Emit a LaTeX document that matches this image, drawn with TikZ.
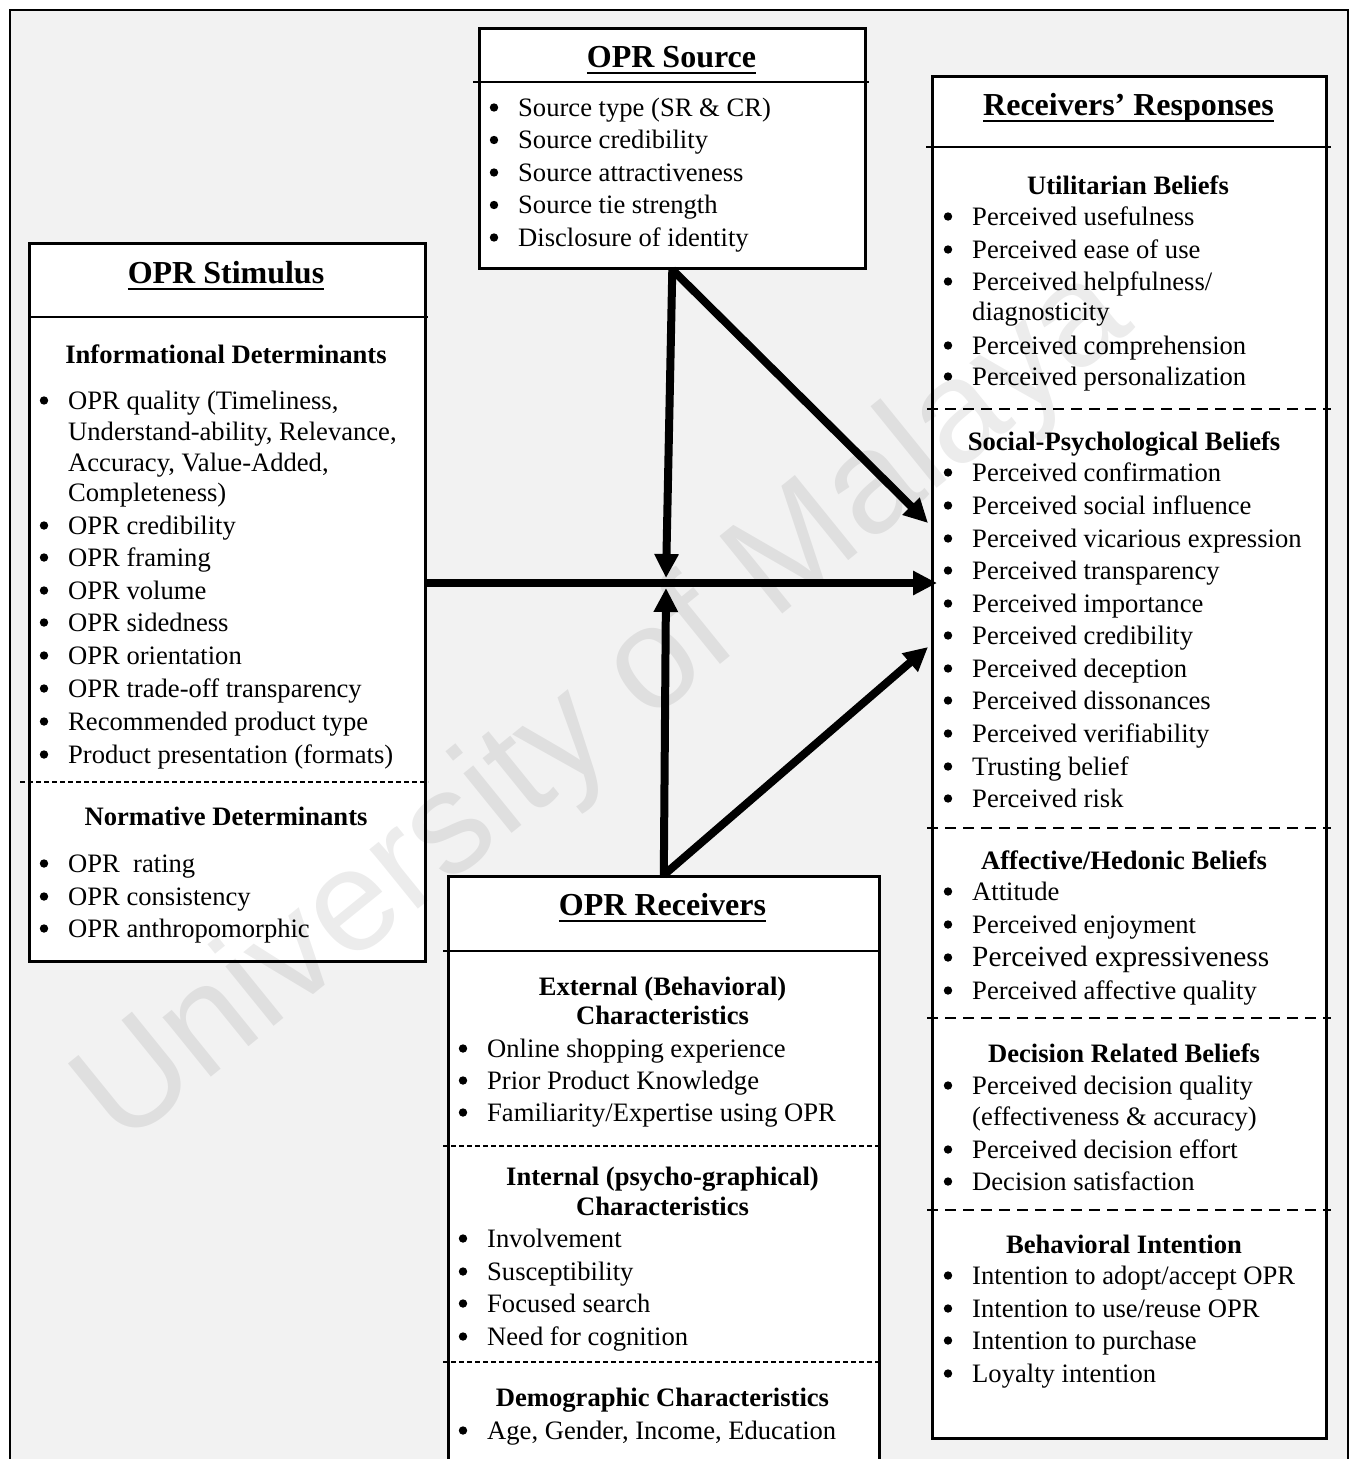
\documentclass[tikz,border=0pt]{standalone}
\usepackage{fontspec}
\setmainfont{Liberation Serif}
\newfontfamily\wmfont{Liberation Sans}
\usetikzlibrary{arrows.meta}
\definecolor{pagegray}{HTML}{F2F2F2}

% bold title with a heavy underline
\newcommand\ulx[1]{\setbox0=\hbox{#1}\rlap{\rule[-7.3pt]{\wd0}{2.6pt}}\box0}

\tikzset{
  box/.style={draw, line width=2.6pt, fill=white, inner sep=0pt, anchor=north west},
  title/.style={anchor=base, font=\fontsize{32}{36}\selectfont\bfseries, inner sep=0pt},
  subhead/.style={anchor=base, font=\fontsize{26.6}{30}\selectfont\bfseries, inner sep=0pt},
  entry/.style={anchor=base west, font=\fontsize{26.6}{30}\selectfont, inner sep=0pt},
  divider/.style={line width=1.4pt},
  thindash/.style={line width=1.2pt, dash pattern=on 5pt off 3pt},
  thickdash/.style={line width=2.6pt, dash pattern=on 11pt off 7pt},
  flow/.style={line width=8pt, -{Triangle[length=24pt,width=23pt]}},
}

% bulleted line: name, text x, baseline y, text
\newcommand\bitem[4]{%
  \node[entry] (#1) at (#2,#3) {#4};
  \fill (#2-24,#3-8.5) circle (4.2pt);}
% continuation line of a wrapped entry
\newcommand\citem[4]{\node[entry] (#1) at (#2,#3) {#4};}

\begin{document}
\begin{tikzpicture}[x=1pt,y=-1pt]
\useasboundingbox (0,0) rectangle (1352,1459);
\clip (0,0) rectangle (1352,1459);

% outer frame
\draw[line width=2.6pt, fill=pagegray] (10,10) rectangle (1348,1520);

% ---------- OPR Source ----------
\node[box, minimum width=386pt, minimum height=240pt] (src) at (478,27) {};
\node[title] (srcT) at (671.5,67) {\ulx{OPR Source}};
\draw[divider] (473,82) -- (869,82);
\bitem{s1}{518}{116}{Source type (SR \& CR)}
\bitem{s2}{518}{148.5}{Source credibility}
\bitem{s3}{518}{181}{Source attractiveness}
\bitem{s4}{518}{213.5}{Source tie strength}
\bitem{s5}{518}{246}{Disclosure of identity}

% ---------- OPR Stimulus ----------
\node[box, minimum width=396pt, minimum height=718pt] (stim) at (28,242) {};
\node[title] (stimT) at (226,283) {\ulx{OPR Stimulus}};
\draw[divider] (28,317) -- (428,317);
\node[subhead] (infoH) at (226,363) {Informational Determinants};
\bitem{i1}{68}{409}{OPR quality (Timeliness,}
\citem{i1b}{68}{440}{Understand-ability, Relevance,}
\citem{i1c}{68}{471}{Accuracy, Value-Added,}
\citem{i1d}{68}{501}{Completeness)}
\bitem{i2}{68}{534}{OPR credibility}
\bitem{i3}{68}{566}{OPR framing}
\bitem{i4}{68}{599}{OPR volume}
\bitem{i5}{68}{631}{OPR sidedness}
\bitem{i6}{68}{664}{OPR orientation}
\bitem{i7}{68}{697}{OPR trade-off transparency}
\bitem{i8}{68}{730}{Recommended product type}
\bitem{i9}{68}{763}{Product presentation (formats)}
\draw[thindash] (20,782) -- (428,782);
\node[subhead] (normH) at (226,825) {Normative Determinants};
\bitem{n1}{68}{872}{OPR~~rating}
\bitem{n2}{68}{905}{OPR consistency}
\bitem{n3}{68}{937}{OPR anthropomorphic}

% ---------- OPR Receivers ----------
\node[box, minimum width=431pt, minimum height=660pt] (rcv) at (447,875) {};
\node[title] (rcvT) at (662.5,915) {\ulx{OPR Receivers}};
\draw[divider] (443,951) -- (880,951);
\node[subhead] (extH) at (662.5,995) {External (Behavioral)};
\node[subhead] (extH2) at (662.5,1024) {Characteristics};
\bitem{e1}{487}{1057}{Online shopping experience}
\bitem{e2}{487}{1089}{Prior Product Knowledge}
\bitem{e3}{487}{1121}{Familiarity/Expertise using OPR}
\draw[thindash] (443,1146) -- (880,1146);
\node[subhead] (intH) at (662.5,1185) {Internal (psycho-graphical)};
\node[subhead] (intH2) at (662.5,1215) {Characteristics};
\bitem{p1}{487}{1247}{Involvement}
\bitem{p2}{487}{1280}{Susceptibility}
\bitem{p3}{487}{1312}{Focused search}
\bitem{p4}{487}{1345}{Need for cognition}
\draw[thindash] (443,1362) -- (880,1362);
\node[subhead] (demH) at (662.5,1406) {Demographic Characteristics};
\bitem{d1}{487}{1439}{Age, Gender, Income, Education}

% ---------- Receivers' Responses ----------
\node[box, minimum width=394pt, minimum height=1362pt] (resp) at (931,75) {};
\node[title] (respT) at (1128.5,115) {\ulx{Receivers’ Responses}};
\draw[divider] (926,147) -- (1331,147);
\node[subhead] (utH) at (1128,194) {Utilitarian Beliefs};
\bitem{u1}{972}{225}{Perceived usefulness}
\bitem{u2}{972}{258}{Perceived ease of use}
\bitem{u3}{972}{290}{Perceived helpfulness/}
\citem{u3b}{972}{320}{diagnosticity}
\bitem{u4}{972}{354}{Perceived comprehension}
\bitem{u5}{972}{385}{Perceived personalization}
\draw[thickdash] (927,409) -- (1331,409);
\node[subhead] (spH) at (1124,450) {Social-Psychological Beliefs};
\bitem{q1}{972}{481}{Perceived confirmation}
\bitem{q2}{972}{514}{Perceived social influence}
\bitem{q3}{972}{547}{Perceived vicarious expression}
\bitem{q4}{972}{579}{Perceived transparency}
\bitem{q5}{972}{612}{Perceived importance}
\bitem{q6}{972}{644}{Perceived credibility}
\bitem{q7}{972}{677}{Perceived deception}
\bitem{q8}{972}{709}{Perceived dissonances}
\bitem{q9}{972}{742}{Perceived verifiability}
\bitem{q10}{972}{775}{Trusting belief}
\bitem{q11}{972}{807}{Perceived risk}
\draw[thickdash] (927,828) -- (1331,828);
\node[subhead] (afH) at (1124,869) {Affective/Hedonic Beliefs};
\bitem{a1}{972}{900}{Attitude}
\bitem{a2}{972}{933}{Perceived enjoyment}
\bitem{a3}{972}{966}{\fontsize{29.3}{32}\selectfont Perceived expressiveness}
\bitem{a4}{972}{999}{Perceived affective quality}
\draw[thickdash] (927,1018) -- (1331,1018);
\node[subhead] (dcH) at (1124,1062) {Decision Related Beliefs};
\bitem{c1}{972}{1094}{Perceived decision quality}
\citem{c1b}{972}{1125}{(effectiveness \& accuracy)}
\bitem{c2}{972}{1158}{Perceived decision effort}
\bitem{c3}{972}{1190}{Decision satisfaction}
\draw[thickdash] (927,1210) -- (1331,1210);
\node[subhead] (biH) at (1124,1253) {Behavioral Intention};
\bitem{b1}{972}{1284}{Intention to adopt/accept OPR}
\bitem{b2}{972}{1317}{Intention to use/reuse OPR}
\bitem{b3}{972}{1349}{Intention to purchase}
\bitem{b4}{972}{1382}{Loyalty intention}

% ---------- connectors ----------
\coordinate (jt) at (666,578);
\coordinate (jb) at (666,588);
\coordinate (tipA) at (928,523);
\coordinate (tipB) at (937,583);
\coordinate (tipC) at (928,647);
\draw[flow] (src.south) -- (jt);
\draw[flow] (src.south) -- (tipA);
\draw[flow] (stim.east |- tipB) -- (tipB);
\draw[flow] (rcv.north) -- (jb);
\draw[flow] (rcv.north) -- (tipC);

% ---------- watermark ----------
\node[rotate=39, opacity=0.075, inner sep=0pt,
      font=\wmfont\fontsize{145}{145}\selectfont] (wm) at (606,709) {University of Malaya};
\end{tikzpicture}
\end{document}
